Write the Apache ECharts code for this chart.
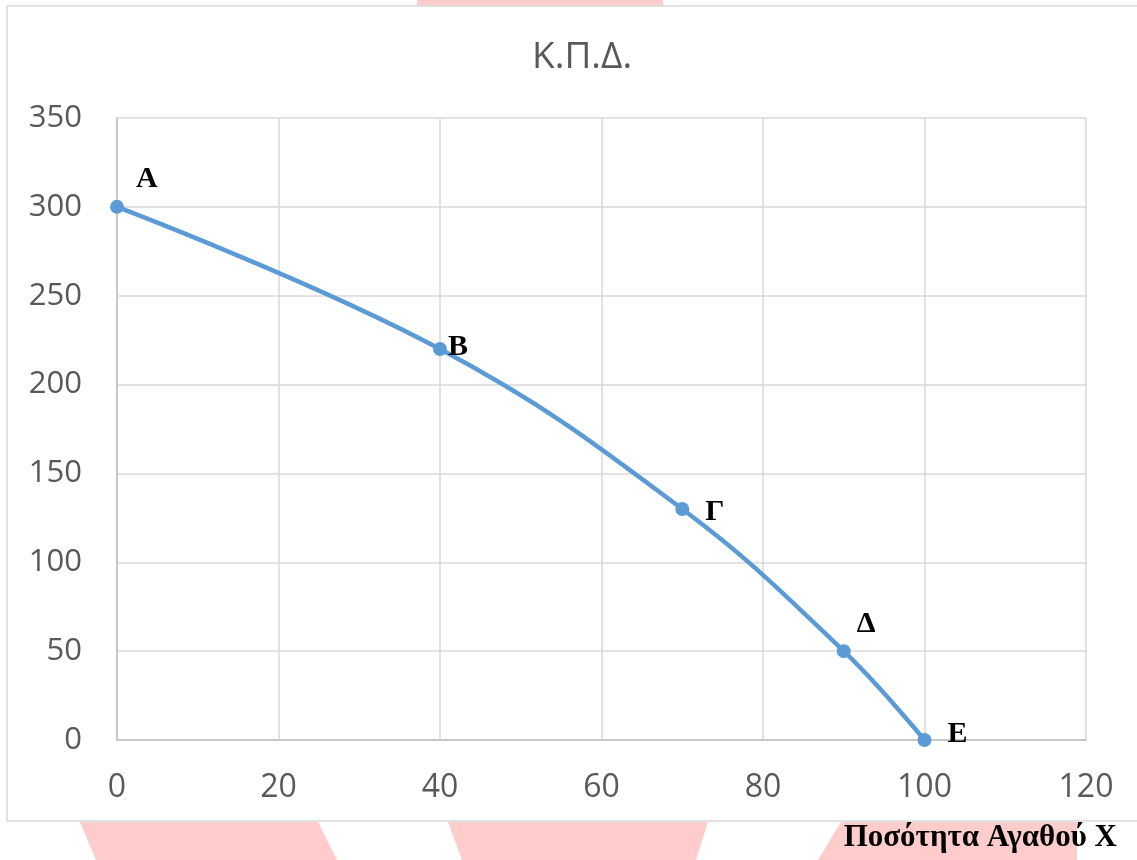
<!DOCTYPE html>
<html>
<head>
<meta charset="utf-8">
<script src="https://cdn.jsdelivr.net/npm/echarts@6/dist/echarts.min.js"></script>
<style>
html,body{margin:0;padding:0;background:#fff;}
#chart{width:1137px;height:860px;}
</style>
</head>
<body>
<div id="chart"></div>
<script>
var chartTitle = 'Κ.Π.Δ.';
var axisTitle = 'Ποσότητα Αγαθού Χ';
var pointNames = ['A', 'B', 'Γ', 'Δ', 'E'];
var xValues = [0, 40, 70, 90, 100];
var yValues = [300, 220, 130, 50, 0];

var labelPlacement = [
  {offset: [0, -28], distance: 12},
  {offset: [0, -2], distance: 1},
  {offset: [0, 3], distance: 16},
  {offset: [0, -27], distance: 6},
  {offset: [0, -6], distance: 16}
];

var seriesData = xValues.map(function (x, i) {
  return {
    value: [x, yValues[i]],
    name: pointNames[i],
    label: {
      show: true,
      formatter: pointNames[i],
      position: 'right',
      offset: labelPlacement[i].offset,
      distance: labelPlacement[i].distance,
      fontFamily: 'Liberation Serif',
      fontWeight: 'bold',
      fontSize: 30,
      color: '#000'
    }
  };
});

var pink = 'rgba(255,198,198,0.9)';
var chart = echarts.init(document.getElementById('chart'), null, {renderer: 'canvas'});
chart.setOption({
  backgroundColor: '#fff',
  animation: false,
  title: {
    text: chartTitle,
    left: 527,
    top: 34,
    textStyle: {fontFamily: 'Open Sans', fontWeight: 'normal', fontSize: 37, color: '#595959'}
  },
  graphic: [
    {type: 'polygon', z: -10, shape: {points: [[417,0],[663,0],[663,7],[417,7]]}, style: {fill: pink}},
    {type: 'polygon', z: -10, shape: {points: [[80,822],[318,822],[337,860],[96,860]]}, style: {fill: pink}},
    {type: 'polygon', z: -10, shape: {points: [[448,822],[708,822],[696,860],[462,860]]}, style: {fill: pink}},
    {type: 'polygon', z: -10, shape: {points: [[841,822],[1077,822],[1077,860],[818,860]]}, style: {fill: pink}},
    {type: 'rect', z: -5, shape: {x: 7, y: 6, width: 1140, height: 815},
      style: {fill: '#fff', stroke: '#D9D9D9', lineWidth: 1.5}},
    {type: 'text', z: 10, right: 20, top: 822,
      style: {text: axisTitle, fontFamily: 'Liberation Serif', fontWeight: 'bold', fontSize: 31, fill: '#000'}}
  ],
  grid: {left: 117, right: 51, top: 118, bottom: 120, containLabel: false},
  xAxis: {
    type: 'value', min: 0, max: 120, interval: 20,
    axisLine: {show: true, onZero: true, lineStyle: {color: '#BFBFBF', width: 1.5}},
    axisTick: {show: false},
    axisLabel: {margin: 32, fontFamily: 'Open Sans', fontSize: 32, color: '#595959'},
    splitLine: {show: true, lineStyle: {color: '#D9D9D9', width: 1.5}}
  },
  yAxis: {
    type: 'value', min: 0, max: 350, interval: 50,
    axisLine: {show: true, lineStyle: {color: '#BFBFBF', width: 1.5}},
    axisTick: {show: false},
    axisLabel: {margin: 35, fontFamily: 'Open Sans', fontSize: 31, color: '#595959'},
    splitLine: {show: true, lineStyle: {color: '#D9D9D9', width: 1.5}}
  },
  series: [{
    type: 'line',
    data: seriesData,
    smooth: 0.4,
    symbol: 'circle',
    symbolSize: 14,
    itemStyle: {color: '#5B9BD5'},
    lineStyle: {color: '#5B9BD5', width: 4.5}
  }]
});
</script>
</body>
</html>
